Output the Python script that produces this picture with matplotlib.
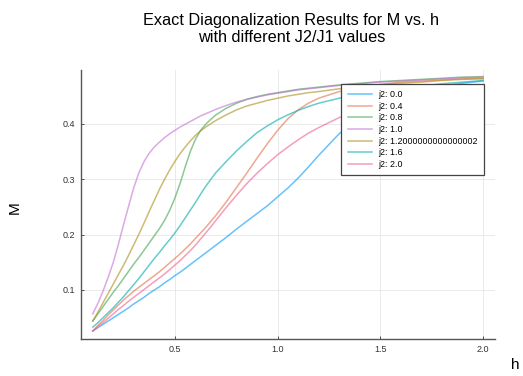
import matplotlib
matplotlib.use("Agg")
import matplotlib.pyplot as plt

plt.rcParams['font.family'] = ['Liberation Sans', 'DejaVu Sans']

# field values h
h = [0.1, 0.125, 0.15, 0.175, 0.2, 0.225, 0.25, 0.275, 0.3, 0.325, 0.35, 0.375, 0.4,
     0.425, 0.45, 0.475, 0.5, 0.525, 0.55, 0.575, 0.6, 0.625, 0.65, 0.675, 0.7,
     0.75, 0.8, 0.85, 0.9, 0.95, 1.0, 1.05, 1.1, 1.15, 1.2,
     1.3, 1.4, 1.5, 1.6, 1.7, 1.8, 1.9, 2.0]

# magnetisation M for each J2/J1
m_00 = [0.026, 0.032, 0.038, 0.044, 0.050, 0.056, 0.062, 0.068, 0.075, 0.081, 0.087, 0.094, 0.100,
        0.106, 0.113, 0.119, 0.126, 0.132, 0.139, 0.146, 0.153, 0.160, 0.167, 0.174, 0.181,
        0.195, 0.210, 0.224, 0.238, 0.252, 0.268, 0.284, 0.302, 0.322, 0.343,
        0.382, 0.413, 0.436, 0.451, 0.461, 0.468, 0.473, 0.477]
m_04 = [0.026, 0.036, 0.045, 0.055, 0.064, 0.073, 0.082, 0.090, 0.098, 0.105, 0.112, 0.119, 0.126,
        0.133, 0.141, 0.149, 0.157, 0.165, 0.174, 0.183, 0.193, 0.203, 0.213, 0.224, 0.235,
        0.259, 0.285, 0.311, 0.338, 0.364, 0.388, 0.409, 0.425, 0.437, 0.446,
        0.458, 0.466, 0.471, 0.475, 0.477, 0.479, 0.481, 0.482]
m_08 = [0.044, 0.057, 0.070, 0.083, 0.096, 0.108, 0.121, 0.134, 0.147, 0.159, 0.172, 0.185, 0.198,
        0.211, 0.226, 0.244, 0.266, 0.292, 0.322, 0.350, 0.372, 0.388, 0.399, 0.408, 0.416,
        0.428, 0.437, 0.444, 0.449, 0.453, 0.456, 0.459, 0.462, 0.464, 0.466,
        0.470, 0.473, 0.476, 0.478, 0.480, 0.482, 0.484, 0.485]
m_10 = [0.057, 0.076, 0.098, 0.123, 0.150, 0.183, 0.218, 0.252, 0.285, 0.312, 0.332, 0.347, 0.358,
        0.367, 0.375, 0.382, 0.388, 0.394, 0.399, 0.404, 0.409, 0.414, 0.418, 0.422, 0.426,
        0.433, 0.439, 0.444, 0.448, 0.452, 0.455, 0.458, 0.461, 0.463, 0.465,
        0.469, 0.472, 0.475, 0.477, 0.479, 0.481, 0.483, 0.484]
m_12 = [0.044, 0.060, 0.077, 0.094, 0.111, 0.128, 0.145, 0.163, 0.182, 0.201, 0.221, 0.242, 0.262,
        0.282, 0.300, 0.317, 0.332, 0.346, 0.358, 0.369, 0.379, 0.387, 0.394, 0.400, 0.406,
        0.416, 0.425, 0.432, 0.437, 0.442, 0.446, 0.450, 0.453, 0.456, 0.458,
        0.463, 0.467, 0.470, 0.473, 0.475, 0.478, 0.480, 0.481]
m_16 = [0.033, 0.041, 0.050, 0.059, 0.068, 0.078, 0.088, 0.099, 0.110, 0.121, 0.133, 0.145, 0.157,
        0.168, 0.180, 0.191, 0.203, 0.216, 0.230, 0.244, 0.258, 0.273, 0.287, 0.300, 0.312,
        0.332, 0.351, 0.368, 0.384, 0.396, 0.407, 0.416, 0.424, 0.431, 0.437,
        0.446, 0.453, 0.459, 0.464, 0.468, 0.472, 0.475, 0.478]
m_20 = [0.026, 0.034, 0.041, 0.049, 0.057, 0.065, 0.072, 0.080, 0.087, 0.094, 0.101, 0.108, 0.115,
        0.122, 0.129, 0.137, 0.145, 0.153, 0.162, 0.171, 0.181, 0.192, 0.203, 0.214, 0.226,
        0.249, 0.271, 0.292, 0.311, 0.328, 0.344, 0.358, 0.371, 0.383, 0.393,
        0.411, 0.425, 0.437, 0.446, 0.453, 0.458, 0.462, 0.465]

labels = ["j2: 0.0", "j2: 0.4", "j2: 0.8", "j2: 1.0", "j2: 1.2000000000000002", "j2: 1.6", "j2: 2.0"]
series = [m_00, m_04, m_08, m_10, m_12, m_16, m_20]
colors = ["#009AFA", "#E36F47", "#3EA44E", "#C371D2", "#AC8D18", "#00A9AD", "#ED5E93"]

fig = plt.figure(figsize=(5.23, 3.76), dpi=100)
ax = fig.add_axes([0.155, 0.098, 0.791, 0.716])

for m, lab, c in zip(series, labels, colors):
    ax.plot(h, m, color=c, lw=1.1, alpha=0.6, label=lab)

ax.set_xlim(0.043, 2.057)
ax.set_ylim(0.0113, 0.497)
ax.set_xticks([0.5, 1.0, 1.5, 2.0])
ax.set_yticks([0.1, 0.2, 0.3, 0.4])
ax.grid(True, color="#e6e6e6", lw=0.6)
ax.set_axisbelow(True)
for s in ["top", "right"]:
    ax.spines[s].set_visible(False)
for s in ["left", "bottom"]:
    ax.spines[s].set_color("#555555")
    ax.spines[s].set_linewidth(1.0)
ax.tick_params(labelsize=6.5, colors="#333333", length=2, direction="in", width=0.6, pad=4)

leg = ax.legend(loc="upper right", bbox_to_anchor=(0.973, 0.948), fontsize=6.4,
                frameon=True, fancybox=False, borderaxespad=0, handlelength=2.7,
                labelspacing=0.3, borderpad=0.7, handletextpad=0.7, framealpha=1)
leg.get_frame().set_edgecolor("#444444")
leg.get_frame().set_linewidth(0.9)

fig.text(0.557, 0.923, "Exact Diagonalization Results for M vs. h\nwith different J2/J1 values",
         ha="center", va="center", fontsize=11.7, linespacing=1.2)
fig.text(0.028, 0.447, "M", rotation=90, ha="center", va="center", fontsize=11)
fig.text(0.985, 0.03, "h", ha="center", va="center", fontsize=11)

fig.savefig("out.png", dpi=100)
